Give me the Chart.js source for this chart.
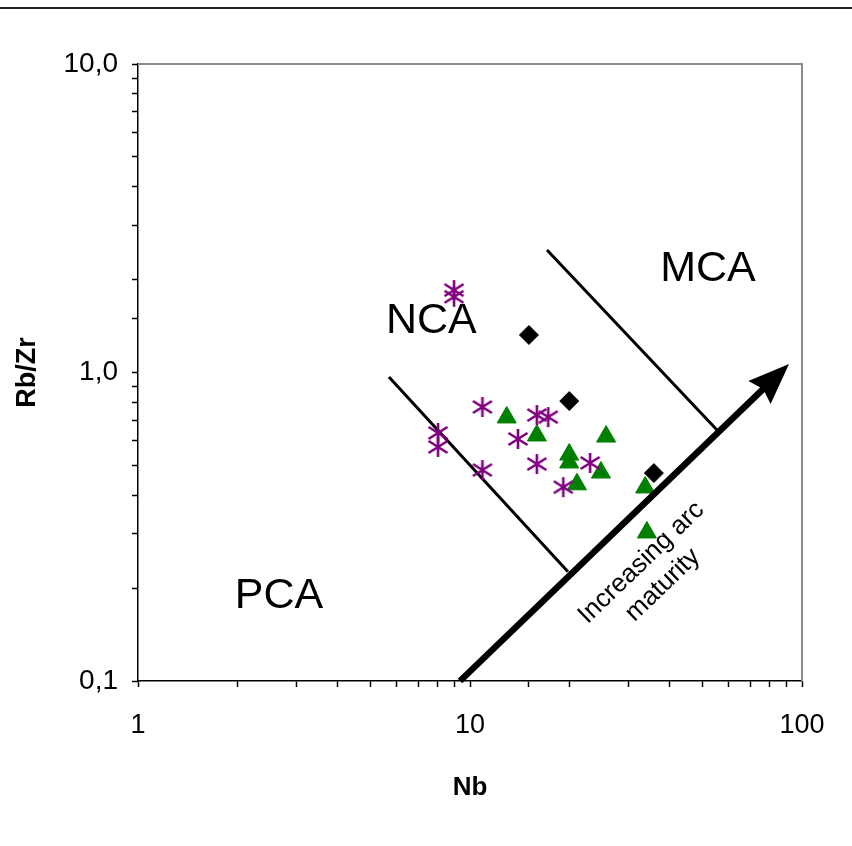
<!DOCTYPE html>
<html lang="en">
<head>
  <meta charset="UTF-8">
  <title>Rb/Zr vs Nb</title>
  <style>
    body {
      margin: 0;
      background: #fff;
    }
    .page {
      position: relative;
      width: 852px;
      height: 846px;
    }
    .top-rule {
      position: absolute;
      left: 0;
      top: 7px;
      width: 852px;
      height: 2px;
      background: #222;
    }
    .chart-box {
      position: absolute;
      left: 0;
      top: 0;
      width: 852px;
      height: 846px;
    }
  </style>
  <script src="https://cdn.jsdelivr.net/npm/chart.js"></script>
</head>
<body>
  <div class="page">
    <div class="chart-box"><canvas id="arcChart"></canvas></div>
    <div class="top-rule"></div>
  </div>

  <script>
    // samples (Nb, Rb/Zr)
    const starNb = [8.95, 8.95, 8.01, 8.01, 10.9, 10.9, 13.95, 15.9, 17.2, 15.9, 23.0, 19.1];
    const starRbZr = [1.85, 1.76, 0.637, 0.574, 0.773, 0.483, 0.609, 0.728, 0.717, 0.505, 0.509, 0.425];

    const triNb = [12.9, 15.9, 19.9, 19.9, 25.7, 24.8, 21.0, 33.7, 34.1];
    const triRbZr = [0.715, 0.625, 0.542, 0.511, 0.620, 0.474, 0.434, 0.424, 0.303];

    const diamondNb = [15.05, 19.9, 35.8];
    const diamondRbZr = [1.323, 0.808, 0.472];

    // field boundaries and the maturity arrow
    const leftLineNb = [5.70, 19.73];
    const leftLineRbZr = [0.967, 0.226];
    const midLineNb = [17.06, 55.46];
    const midLineRbZr = [2.495, 0.651];
    const arrowNb = [9.33, 91.4];
    const arrowRbZr = [0.1, 1.065];

    // field names
    const fieldNames = ['NCA', 'MCA', 'PCA'];
    const fieldNb = [7.65, 52.1, 2.66];
    const fieldRbZr = [1.508, 2.214, 0.194];

    const arrowText = ['Increasing arc', 'maturity'];
    const arrowTextNb = 35.0;
    const arrowTextRbZr = 0.225;

    const xMajorTicks = [1, 10, 100];
    const xTickLabels = ['1', '10', '100'];
    const yMajorTicks = [0.1, 1, 10];
    const yTickLabels = ['0,1', '1,0', '10,0'];

    const FONT = "'Liberation Sans', Arial, sans-serif";

    function pairs(xs, ys) {
      return xs.map((x, i) => ({ x: x, y: ys[i] }));
    }

    function tickLabel(value, majors, labels) {
      const i = majors.findIndex(v => Math.abs(v - value) < v * 1e-6);
      return i >= 0 ? labels[i] : '';
    }

    // Excel style asterisk marker
    function makeAsterisk(color) {
      const c = document.createElement('canvas');
      c.width = 22;
      c.height = 22;
      const g = c.getContext('2d');
      g.strokeStyle = color;
      g.lineWidth = 2.6;
      g.beginPath();
      g.moveTo(11, 1); g.lineTo(11, 21);
      g.moveTo(1.5, 5); g.lineTo(20.5, 17);
      g.moveTo(1.5, 17); g.lineTo(20.5, 5);
      g.stroke();
      return c;
    }

    const frameAndNotes = {
      id: 'frameAndNotes',
      beforeDatasetsDraw(chart) {
        const { ctx, chartArea } = chart;
        ctx.save();
        ctx.strokeStyle = '#8a8a8a';
        ctx.lineWidth = 2;
        ctx.beginPath();
        ctx.moveTo(chartArea.left, chartArea.top);
        ctx.lineTo(chartArea.right, chartArea.top);
        ctx.lineTo(chartArea.right, chartArea.bottom);
        ctx.stroke();
        ctx.restore();
      },
      afterDatasetsDraw(chart) {
        const { ctx } = chart;
        const xs = chart.scales.x;
        const ys = chart.scales.y;

        // arrow
        const x0 = xs.getPixelForValue(arrowNb[0]);
        const y0 = ys.getPixelForValue(arrowRbZr[0]);
        const x1 = xs.getPixelForValue(arrowNb[1]);
        const y1 = ys.getPixelForValue(arrowRbZr[1]);
        const len = Math.hypot(x1 - x0, y1 - y0);
        const ux = (x1 - x0) / len;
        const uy = (y1 - y0) / len;
        const headLen = 41;
        const headHalf = 16;
        const bx = x1 - ux * headLen;
        const by = y1 - uy * headLen;

        ctx.save();
        ctx.strokeStyle = '#000';
        ctx.fillStyle = '#000';
        ctx.lineWidth = 6.5;
        ctx.lineCap = 'butt';
        ctx.beginPath();
        ctx.moveTo(x0, y0);
        ctx.lineTo(bx + ux * 6, by + uy * 6);
        ctx.stroke();

        ctx.beginPath();
        ctx.moveTo(x1, y1);
        ctx.lineTo(bx - uy * headHalf, by + ux * headHalf);
        ctx.lineTo(bx + ux * 5, by + uy * 5);
        ctx.lineTo(bx + uy * headHalf, by - ux * headHalf);
        ctx.closePath();
        ctx.fill();

        // field names
        ctx.textAlign = 'center';
        ctx.textBaseline = 'alphabetic';
        ctx.font = '43px ' + FONT;
        fieldNames.forEach((name, i) => {
          const px = xs.getPixelForValue(fieldNb[i]);
          const py = ys.getPixelForValue(fieldRbZr[i]);
          ctx.fillText(name, px, py + 43 * 0.358);
        });

        // rotated arrow caption
        const tx = xs.getPixelForValue(arrowTextNb);
        const ty = ys.getPixelForValue(arrowTextRbZr);
        const size = 26;
        const lineGap = 31;
        ctx.translate(tx, ty);
        ctx.rotate(Math.atan2(uy, ux));
        ctx.font = size + 'px ' + FONT;
        arrowText.forEach((line, i) => {
          const off = (i - (arrowText.length - 1) / 2) * lineGap;
          ctx.fillText(line, 0, off + size * 0.358);
        });
        ctx.restore();
      }
    };

    const axisGrid = {
      drawOnChartArea: false,
      drawTicks: true,
      tickLength: 6,
      tickWidth: 1.5,
      color: '#000'
    };

    new Chart(document.getElementById('arcChart'), {
      type: 'scatter',
      data: {
        datasets: [
          {
            label: 'asterisk',
            data: pairs(starNb, starRbZr),
            pointStyle: makeAsterisk('#800080'),
            pointRadius: 11
          },
          {
            label: 'triangle',
            data: pairs(triNb, triRbZr),
            pointStyle: 'triangle',
            pointRadius: 11,
            backgroundColor: '#008000',
            borderColor: '#008000',
            borderWidth: 1
          },
          {
            label: 'diamond',
            data: pairs(diamondNb, diamondRbZr),
            pointStyle: 'rectRot',
            pointRadius: 9.5,
            backgroundColor: '#000',
            borderColor: '#000',
            borderWidth: 1
          },
          {
            label: 'left boundary',
            data: pairs(leftLineNb, leftLineRbZr),
            showLine: true,
            pointRadius: 0,
            borderColor: '#000',
            borderWidth: 3
          },
          {
            label: 'middle boundary',
            data: pairs(midLineNb, midLineRbZr),
            showLine: true,
            pointRadius: 0,
            borderColor: '#000',
            borderWidth: 3
          },
          {
            label: 'arrow',
            data: pairs(arrowNb, arrowRbZr),
            showLine: false,
            pointRadius: 0
          }
        ]
      },
      options: {
        responsive: true,
        maintainAspectRatio: false,
        animation: false,
        layout: {
          padding: { top: 64, right: 50, left: 0, bottom: 0 }
        },
        plugins: {
          legend: { display: false },
          tooltip: { enabled: false }
        },
        scales: {
          x: {
            type: 'logarithmic',
            min: 1,
            max: 100,
            afterFit: s => { s.height = 165; },
            grid: axisGrid,
            border: { color: '#000', width: 1.5 },
            ticks: {
              autoSkip: false,
              maxRotation: 0,
              padding: 22,
              color: '#000',
              font: { family: FONT, size: 27 },
              callback: v => tickLabel(v, xMajorTicks, xTickLabels)
            },
            title: {
              display: true,
              text: 'Nb',
              color: '#000',
              font: { family: FONT, size: 26, weight: 'bold' },
              padding: { top: 0, bottom: 43 }
            }
          },
          y: {
            type: 'logarithmic',
            min: 0.1,
            max: 10,
            afterFit: s => { s.width = 138; },
            grid: axisGrid,
            border: { color: '#000', width: 1.5 },
            ticks: {
              autoSkip: false,
              padding: 14,
              color: '#000',
              font: { family: FONT, size: 28 },
              callback: v => tickLabel(v, yMajorTicks, yTickLabels)
            },
            title: {
              display: true,
              text: 'Rb/Zr',
              color: '#000',
              font: { family: FONT, size: 27, weight: 'bold' },
              padding: { top: 11, bottom: 0 }
            }
          }
        }
      },
      plugins: [frameAndNotes]
    });
  </script>
</body>
</html>
